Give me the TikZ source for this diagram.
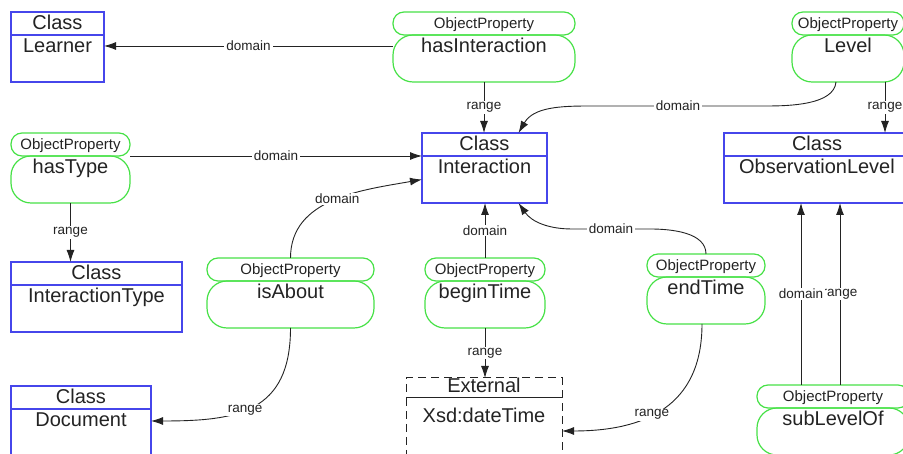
\documentclass[tikz,border=0pt]{standalone}
\usepackage{fontspec}
\setmainfont{Liberation Sans}
\usetikzlibrary{positioning,arrows.meta}

\definecolor{clsblue}{RGB}{70,70,235}
\definecolor{propgreen}{RGB}{70,225,70}
\definecolor{inkgray}{RGB}{35,35,35}
\newcommand{\clsfont}{\fontsize{20}{24}\selectfont}
\newcommand{\opfont}{\fontsize{15}{18}\selectfont}
\newcommand{\lblfont}{\fontsize{13.5}{16}\selectfont}

\tikzset{
  clshead/.style={draw=clsblue, line width=1.2pt, minimum width=#1, inner sep=0pt, outer sep=0pt,
    text height=18pt, text depth=5pt, anchor=north west, font=\clsfont, text=inkgray},
  clsbody/.style={clshead=#1, text depth=29pt},
  exthead/.style={clshead=#1, draw=inkgray, dash pattern=on 8pt off 5pt, line width=1pt, text height=15pt},
  extbody/.style={exthead=#1, text height=25pt, text depth=40pt},
  prophead/.style={draw=propgreen, line width=1.2pt, rounded corners=11pt, minimum width=#1, inner sep=0pt,
    outer sep=0pt, text height=17pt, text depth=6pt, anchor=north west, font=\opfont, text=inkgray},
  propbody/.style={prophead=#1, rounded corners=20pt, text height=18pt, text depth=29pt, font=\clsfont},
  link/.style={->, draw=inkgray, line width=0.9pt},
  lbl/.style={fill=white, inner xsep=2pt, inner ysep=1pt, font=\lblfont, text=inkgray},
  >={Latex[length=12pt,width=8pt]}
}

\begin{document}
\begin{tikzpicture}[x=1pt,y=1pt]
  \useasboundingbox (0,0) rectangle (903,454);
  \clip (0,0) rectangle (903,454);

  % classes
  \node[clshead=93] (learnerh) at (11,442) {Class};
  \node[clsbody=93, below=0pt of learnerh] (learner) {Learner};
  \node[clshead=125] (interactionh) at (422,321) {Class};
  \node[clsbody=125, below=0pt of interactionh] (interaction) {Interaction};
  \node[clshead=186] (obslevelh) at (724,321) {Class};
  \node[clsbody=186, below=0pt of obslevelh] (obslevel) {ObservationLevel};
  \node[clshead=171] (itypeh) at (11,192) {Class};
  \node[clsbody=171, below=0pt of itypeh] (itype) {InteractionType};
  \node[clshead=140] (documenth) at (11,68) {Class};
  \node[clsbody=140, below=0pt of documenth] (document) {Document};
  \node[exthead=156] (externalh) at (406,76) {External};
  \node[extbody=156, below=0pt of externalh] (external) {Xsd:dateTime};

  % object properties
  \node[prophead=182] (hasinth) at (393,442) {ObjectProperty};
  \node[propbody=182, below=0pt of hasinth] (hasint) {hasInteraction};
  \node[prophead=112] (levelh) at (792,442) {ObjectProperty};
  \node[propbody=112, below=0pt of levelh] (level) {Level};
  \node[prophead=119] (hastypeh) at (11,321) {ObjectProperty};
  \node[propbody=119, below=0pt of hastypeh] (hastype) {hasType};
  \node[prophead=167] (isabouth) at (207,196) {ObjectProperty};
  \node[propbody=167, below=0pt of isabouth] (isabout) {isAbout};
  \node[prophead=120] (begintimeh) at (425,196) {ObjectProperty};
  \node[propbody=120, below=0pt of begintimeh] (begintime) {beginTime};
  \node[prophead=118] (endtimeh) at (647,200) {ObjectProperty};
  \node[propbody=118, below=0pt of endtimeh] (endtime) {endTime};
  \node[prophead=152] (sublevelh) at (757,69) {ObjectProperty};
  \node[propbody=152, below=0pt of sublevelh] (sublevel) {subLevelOf};

  % domain and range links
  \draw[link] ([yshift=-11pt]hasint.north west) -- ([yshift=-11pt]learner.north east) node[midway,lbl] {domain};
  \draw[link] (hasint.south) -- (hasint.south |- interactionh.north) node[midway,lbl] {range};
  \draw[link] ([xshift=-12pt]level.south) to[out=-95,in=0,looseness=0.8] (766,348) -- (590,348)
    node[midway,lbl] {domain} to[out=180,in=60] ([xshift=34pt]interactionh.north);
  \draw[link] ([xshift=37pt]level.south) -- ([xshift=68pt]obslevelh.north) node[midway,lbl] {range};
  \draw[link] (hastypeh.south east) -- (interactionh.south west) node[midway,lbl] {domain};
  \draw[link] (hastype.south) -- (hastype.south |- itypeh.north) node[midway,lbl] {range};
  \draw[link] (isabouth.north) to[out=90,in=190] node[pos=0.52,lbl] {domain} (interaction.west);
  \draw[link] (isabout.south) to[out=-90,in=0,looseness=1.3] node[pos=0.55,lbl] {range} ([yshift=-12pt]document.north east);
  \draw[link] (begintimeh.north) -- (begintimeh.north |- interaction.south) node[midway,lbl] {domain};
  \draw[link] (begintime.south) -- (begintime.south |- externalh.north) node[midway,lbl] {range};
  \draw[link] (endtimeh.north) to[out=90,in=0,looseness=0.9] (650,225) -- (572,225)
    node[midway,lbl] {domain} to[out=180,in=-55] ([xshift=34pt]interaction.south);
  \draw[link] ([xshift=-4pt]endtime.south) to[out=-90,in=0,looseness=1.2] node[pos=0.57,lbl] {range} ([yshift=-33pt]external.north east);
  \draw[link] ([xshift=7pt]sublevelh.north) -- ([xshift=23pt]obslevel.south) node[midway,lbl] {range};
  \draw[link] ([xshift=-32pt]sublevelh.north) -- ([xshift=-16pt]obslevel.south) node[midway,lbl] {domain};
\end{tikzpicture}
\end{document}
